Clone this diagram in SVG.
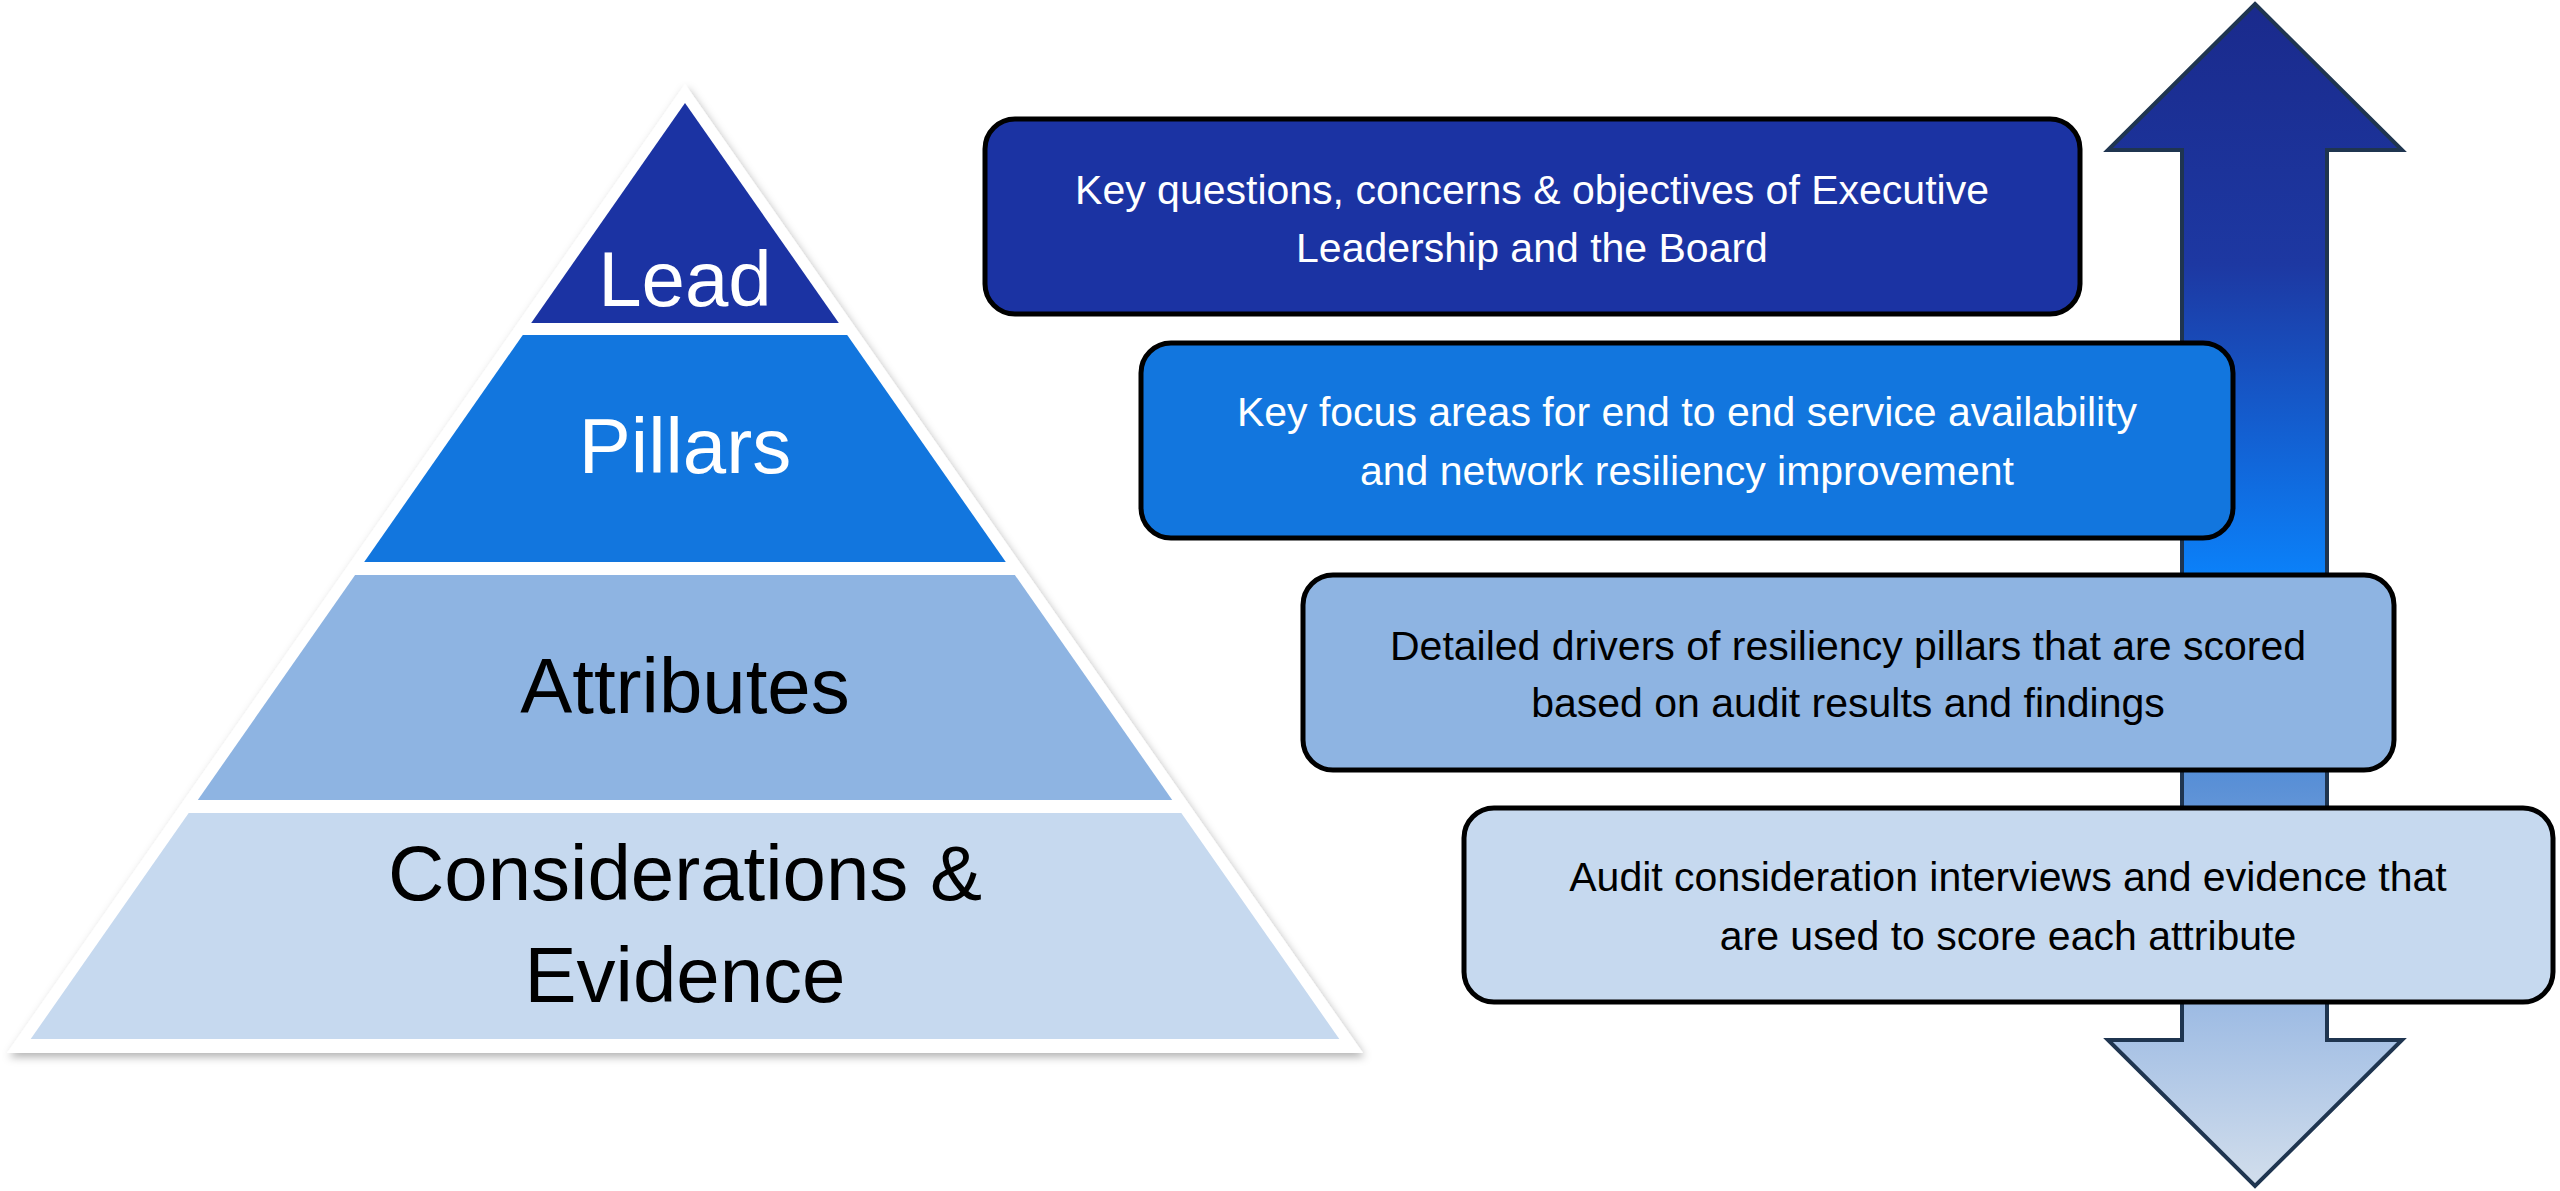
<svg xmlns="http://www.w3.org/2000/svg" width="2560" height="1191" viewBox="0 0 2560 1191">
<style>
.pt{font-family:"Liberation Sans",Arial,sans-serif;font-size:78px;text-anchor:middle}
.bt{font-family:"Liberation Sans",Arial,sans-serif;font-size:41px;text-anchor:middle}
.box{stroke:#000;stroke-width:5}
</style>
<defs>
<linearGradient id="ag" x1="0" y1="0" x2="0" y2="1">
<stop offset="0" stop-color="#1a2a8c"/>
<stop offset="0.22" stop-color="#1d38a2"/>
<stop offset="0.48" stop-color="#0b80f8"/>
<stop offset="0.66" stop-color="#5a90d6"/>
<stop offset="0.82" stop-color="#94b5e2"/>
<stop offset="1" stop-color="#d2deec"/>
</linearGradient>
<filter id="sh" x="-5%" y="-5%" width="110%" height="110%"><feDropShadow dx="2" dy="4" stdDeviation="4" flood-opacity="0.3"/></filter>
</defs>
<g id="pyramid">
<polygon points="685,84 1363,1053 7,1053" fill="#fff" filter="url(#sh)"/>
<g id="lead"><polygon points="685,103 838.8,323 531.2,323" fill="#1b33a3"/><text class="pt" x="685" y="306" fill="#fff">Lead</text></g>
<g id="pillars"><polygon points="522.8,335 847.2,335 1005.8,562 364.2,562" fill="#1276de"/><text class="pt" x="685" y="473" fill="#fff">Pillars</text></g>
<g id="attributes"><polygon points="355.1,575 1014.9,575 1172.2,800 197.8,800" fill="#8eb4e2"/><text class="pt" x="685" y="713" fill="#000">Attributes</text></g>
<g id="considerations"><polygon points="188.7,813 1181.3,813 1339.3,1039 30.7,1039" fill="#c6d9ef"/><text class="pt" x="685" y="900" fill="#000">Considerations &amp;</text><text class="pt" x="685" y="1002" fill="#000">Evidence</text></g>
</g>
<g id="arrow">
<polygon points="2255,4 2402,150 2327,150 2327,1040 2402,1040 2255,1186 2108,1040 2182,1040 2182,150 2108,150" fill="url(#ag)" stroke="#1f3550" stroke-width="4"/>
</g>
<g id="box1"><rect class="box" x="985" y="119" width="1095" height="195" rx="30" fill="#1b33a3"/><text class="bt" x="1532" y="204" fill="#fff">Key questions, concerns &amp; objectives of Executive</text><text class="bt" x="1532" y="262" fill="#fff">Leadership and the Board</text></g>
<g id="box2"><rect class="box" x="1141" y="343" width="1092" height="195" rx="30" fill="#1276de"/><text class="bt" x="1687" y="426" fill="#fff">Key focus areas for end to end service availability</text><text class="bt" x="1687" y="485" fill="#fff">and network resiliency improvement</text></g>
<g id="box3"><rect class="box" x="1303" y="575" width="1091" height="195" rx="30" fill="#8eb4e2"/><text class="bt" x="1848" y="660" fill="#000">Detailed drivers of resiliency pillars that are scored</text><text class="bt" x="1848" y="717" fill="#000">based on audit results and findings</text></g>
<g id="box4"><rect class="box" x="1464" y="808" width="1089" height="194" rx="30" fill="#c6d9ef"/><text class="bt" x="2008" y="891" fill="#000">Audit consideration interviews and evidence that</text><text class="bt" x="2008" y="950" fill="#000">are used to score  each attribute</text></g>
</svg>
